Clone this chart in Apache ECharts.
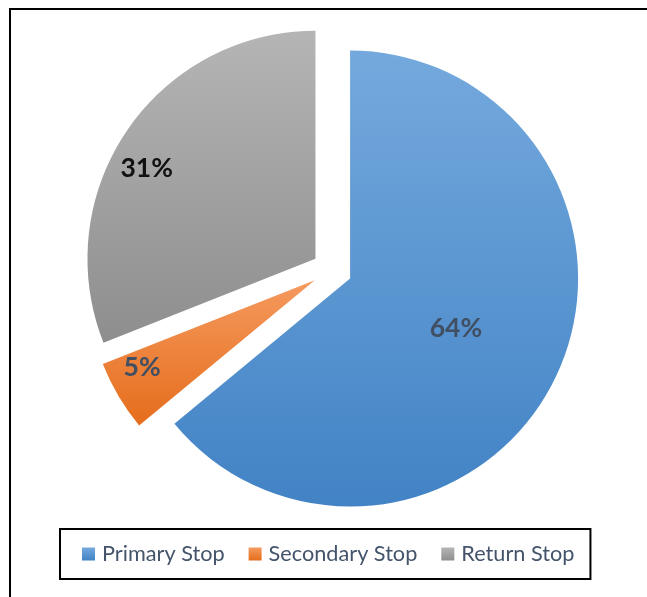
<!DOCTYPE html>
<html>
<head>
<meta charset="utf-8">
<script src="https://cdn.jsdelivr.net/npm/echarts@6/dist/echarts.min.js"></script>
<style>
  html, body { margin: 0; padding: 0; background: #fff; }
  #chart { width: 647px; height: 597px; }
</style>
</head>
<body>
<div id="chart"></div>
<script>
// Share of stops by type (percent)
const categories = ['Primary Stop', 'Secondary Stop', 'Return Stop'];
const shares = [64, 5, 31];

// Top-to-bottom gradient per slice
const sliceColors = [
  ['#74a9dd', '#4283c5'],
  ['#f59a5f', '#e56d1b'],
  ['#b5b5b5', '#8e8e8e']
];
const labelColors = ['#414f63', '#414f63', '#111111'];
// Nudges for the labels of the two thin/left slices
const labelNudge = [[0, 0], [-72, 28], [-72, -25]];

function grad(c) {
  return new echarts.graphic.LinearGradient(0, 0, 0, 1, [
    { offset: 0, color: c[0] },
    { offset: 1, color: c[1] }
  ]);
}

const chart = echarts.init(document.getElementById('chart'), null, { renderer: 'canvas' });

chart.setOption({
  animation: false,
  backgroundColor: '#ffffff',
  graphic: [{
    type: 'rect',
    shape: { x: 10, y: 9, width: 700, height: 700 },
    style: { fill: 'none', stroke: '#000', lineWidth: 2 },
    silent: true
  }],
  legend: {
    data: categories,
    left: 60,
    top: 529,
    orient: 'horizontal',
    icon: 'rect',
    itemWidth: 13,
    itemHeight: 13,
    itemGap: 24,
    padding: [14, 16, 14, 22],
    borderColor: '#000',
    borderWidth: 2,
    selectedMode: false,
    textStyle: {
      fontFamily: 'Lato',
      fontSize: 21.7,
      color: '#44546a',
      padding: [0, 0, 0, 2]
    }
  },
  series: [{
    type: 'pie',
    center: [332, 270],
    radius: 228,
    startAngle: 90,
    clockwise: true,
    selectedMode: 'multiple',
    selectedOffset: 20,
    avoidLabelOverlap: false,
    emphasis: { disabled: true },
    itemStyle: { borderWidth: 0 },
    label: {
      show: true,
      position: 'inside',
      formatter: '{c}%',
      fontFamily: 'Lato',
      fontWeight: 'bold',
      fontSize: 26.5
    },
    labelLine: { show: false },
    labelLayout: function (p) {
      const n = labelNudge[p.dataIndex];
      return { dx: n[0], dy: n[1] };
    },
    data: categories.map(function (name, i) {
      return {
        name: name,
        value: shares[i],
        selected: true,
        itemStyle: { color: grad(sliceColors[i]) },
        label: { color: labelColors[i] }
      };
    })
  }]
});
</script>
</body>
</html>
